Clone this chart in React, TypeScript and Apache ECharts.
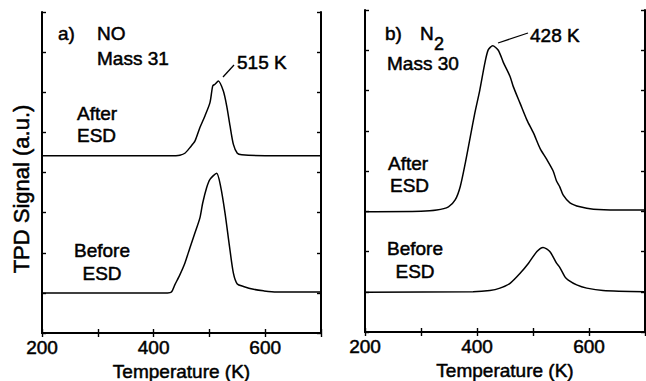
import { useEffect, useRef } from 'react';
import * as echarts from 'echarts';

// Panel a) NO, mass 31
const noAfterT = [200, 300, 440, 447, 456, 465, 474, 483, 492, 501, 506, 510, 516, 525, 531, 537, 543, 550, 558, 600, 700];
const noAfterV = [4.42, 4.42, 4.42, 4.43, 4.48, 4.62, 4.78, 5.12, 5.41, 5.74, 6.16, 6.2, 6.28, 6.03, 5.66, 5.16, 4.7, 4.48, 4.44, 4.42, 4.42];
const noBeforeT = [200, 300, 425, 432, 438, 447, 456, 465, 474, 483, 488, 495, 501, 513, 520, 528, 536, 543, 550, 561, 579, 597, 620, 700];
const noBeforeV = [1.0, 1.0, 1.0, 1.02, 1.2, 1.45, 1.74, 2.12, 2.49, 2.87, 3.24, 3.62, 3.83, 3.98, 3.66, 2.99, 2.16, 1.49, 1.22, 1.16, 1.09, 1.05, 1.02, 1.02];

// Panel b) N2, mass 30
const n2AfterT = [200, 300, 328, 349, 361, 370, 379, 388, 396, 405, 414, 420, 428, 438, 447, 459, 465, 477, 489, 501, 513, 524, 536, 542, 548, 554, 566, 584, 608, 650, 700];
const n2AfterV = [2.99, 3.0, 3.03, 3.11, 3.28, 3.61, 4.19, 4.85, 5.43, 6.01, 6.68, 7.01, 7.11, 7.0, 6.7, 6.35, 6.09, 5.68, 5.27, 4.94, 4.55, 4.3, 4.0, 3.75, 3.6, 3.4, 3.21, 3.11, 3.05, 3.03, 3.03];
const n2BeforeT = [200, 393, 423, 441, 459, 477, 492, 507, 518, 530, 542, 548, 557, 563, 578, 596, 625, 700];
const n2BeforeV = [0.99, 1.0, 1.03, 1.09, 1.21, 1.46, 1.71, 2.0, 2.1, 2.0, 1.71, 1.6, 1.37, 1.29, 1.17, 1.09, 1.03, 1.0];

const xTickLabels = [200, 400, 600];
const xMin = 200;
const xMax = 700;
const xStep = 100;
const yMin = 0;
const yMax = 8;
const yStep = 1;

const FONT = '"Liberation Sans", Arial, Helvetica, sans-serif';

const zip = (t: number[], v: number[]) => t.map((x, i) => [x, v[i]]);

export default function App() {
  const ref = useRef<HTMLDivElement>(null);

  useEffect(() => {
    if (!ref.current) return;
    const chart = echarts.init(ref.current, null, { renderer: 'svg' });

    const axisLine = { show: true, lineStyle: { color: '#000', width: 2 } };
    const tick = { show: true, inside: true, length: 4, lineStyle: { color: '#000', width: 1.4 } };
    const heavy = { textBorderColor: '#000', textBorderWidth: 0.5 };

    const xBottom = (gridIndex: number) => ({
      type: 'value',
      gridIndex,
      position: 'bottom',
      min: xMin,
      max: xMax,
      interval: xStep,
      axisLine,
      axisTick: tick,
      splitLine: { show: false },
      axisLabel: {
        color: '#000',
        fontSize: 19,
        fontFamily: FONT,
        margin: 5,
        ...heavy,
        formatter: (v: number) => (xTickLabels.includes(v) ? String(v) : ''),
      },
      name: 'Temperature (K)',
      nameLocation: 'middle',
      nameGap: 29,
      nameTextStyle: { color: '#000', fontSize: 19, fontFamily: FONT, ...heavy },
    });
    const xTop = (gridIndex: number) => ({
      type: 'value',
      gridIndex,
      position: 'top',
      min: xMin,
      max: xMax,
      interval: xStep,
      axisLine,
      axisTick: tick,
      splitLine: { show: false },
      axisLabel: { show: false },
    });
    const yAx = (gridIndex: number, position: string) => ({
      type: 'value',
      gridIndex,
      position,
      min: yMin,
      max: yMax,
      interval: yStep,
      axisLine,
      axisTick: tick,
      splitLine: { show: false },
      axisLabel: { show: false },
    });

    const line = (data: number[][], xi: number, yi: number) => ({
      type: 'line',
      xAxisIndex: xi,
      yAxisIndex: yi,
      data,
      showSymbol: false,
      smooth: 0.25,
      lineStyle: { color: '#000', width: 1.5 },
      itemStyle: { color: '#000' },
    });

    const txt = (text: string, x: number, y: number, align = 'left', size = 19, rotation = 0) => ({
      type: 'text',
      x,
      y,
      rotation,
      style: {
        text,
        fill: '#000',
        stroke: '#000',
        lineWidth: 0.5,
        font: `${size}px ${FONT}`,
        align,
        verticalAlign: 'middle',
      },
    });

    chart.setOption({
      animation: false,
      backgroundColor: '#fff',
      grid: [
        { left: 42, top: 12, width: 279, height: 321, outerBoundsMode: 'none', containLabel: false },
        { left: 365, top: 10, width: 280, height: 322, outerBoundsMode: 'none', containLabel: false },
      ],
      xAxis: [xBottom(0), xTop(0), xBottom(1), xTop(1)],
      yAxis: [yAx(0, 'left'), yAx(0, 'right'), yAx(1, 'left'), yAx(1, 'right')],
      series: [
        line(zip(noAfterT, noAfterV), 0, 0),
        line(zip(noBeforeT, noBeforeV), 0, 0),
        line(zip(n2AfterT, n2AfterV), 2, 2),
        line(zip(n2BeforeT, n2BeforeV), 2, 2),
      ],
      graphic: [
        txt('TPD Signal (a.u.)', 21, 189, 'center', 22, Math.PI / 2),
        txt('a)', 58, 33),
        txt('NO', 97, 33),
        txt('Mass 31', 97, 58),
        txt('515 K', 237, 62),
        { type: 'line', shape: { x1: 223, y1: 77, x2: 234, y2: 65 }, style: { stroke: '#000', lineWidth: 1.3 } },
        txt('After', 77, 113),
        txt('ESD', 77, 135),
        txt('Before', 102, 250, 'center'),
        txt('ESD', 102, 273, 'center'),
        txt('b)', 385, 33),
        txt('N', 420, 33),
        txt('2', 434, 44, 'left', 18),
        txt('Mass 30', 387, 63),
        txt('428 K', 530, 35),
        { type: 'line', shape: { x1: 498, y1: 43, x2: 528, y2: 33 }, style: { stroke: '#000', lineWidth: 1.3 } },
        txt('After', 388, 163),
        txt('ESD', 390, 185),
        txt('Before', 415, 248, 'center'),
        txt('ESD', 415, 271, 'center'),
      ],
    });

    return () => chart.dispose();
  }, []);

  return (
    <div
      ref={ref}
      style={{ position: 'fixed', left: 0, top: 0, width: 646, height: 381, background: '#fff' }}
    />
  );
}
